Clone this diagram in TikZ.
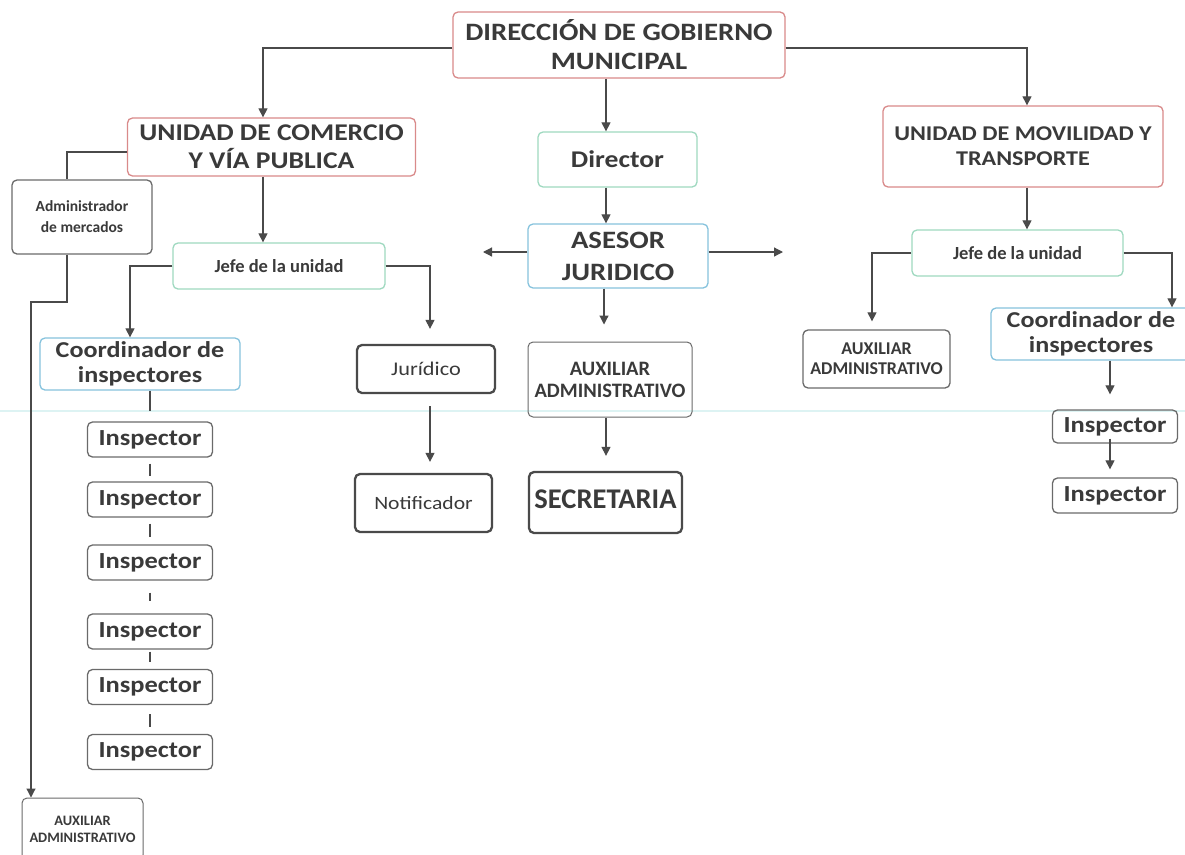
\documentclass[tikz,border=0pt]{standalone}
\usepackage{fontspec}
\setmainfont{Carlito}
\newfontfamily\cw{Carlito}[FakeStretch=1.15]
\usetikzlibrary{arrows.meta}
\definecolor{txt}{HTML}{3A3A3A}
\definecolor{lnc}{HTML}{4A4A4A}
\definecolor{redb}{HTML}{D98A8A}
\definecolor{greenb}{HTML}{9FD9C0}
\definecolor{blueb}{HTML}{86C3DD}
\definecolor{grayb}{HTML}{6A6A6A}
\definecolor{darkb}{HTML}{4A4A4A}
\definecolor{scan}{HTML}{DDF3F3}
\newcommand{\fs}[2]{\fontsize{#1}{#2}\selectfont}
\tikzset{
  box/.style={draw, rounded corners=5pt, line width=1.3pt, align=center, text=txt, inner sep=0pt},
  redbox/.style={box, draw=redb},
  greenbox/.style={box, draw=greenb},
  bluebox/.style={box, draw=blueb},
  graybox/.style={box, draw=grayb},
  darkbox/.style={box, draw=darkb, line width=2.3pt},
  inspbox/.style={graybox, minimum width=125pt, minimum height=35pt, font=\cw\bfseries\fs{23}{25}},
  conn/.style={draw=lnc, line width=1.2pt},
  arr/.style={conn, -{Triangle[length=9pt,width=9pt]}},
}
\begin{document}
\begin{tikzpicture}[x=1pt,y=-1pt]
\useasboundingbox (0,0) rectangle (1185,854);
\fill[white] (0,0) rectangle (1185,854);
\draw[scan, line width=2pt] (0,411) -- (1185,411);

% top
\node[redbox, minimum width=332pt, minimum height=66pt, font=\cw\bfseries\fs{25}{29}] (dgm) at (619,45)
  {DIRECCIÓN DE GOBIERNO\\MUNICIPAL};
\node[redbox, minimum width=288pt, minimum height=58pt, font=\cw\bfseries\fs{24}{28}] (ucv) at (271.5,147)
  {UNIDAD DE COMERCIO\\Y VÍA PUBLICA};
\node[redbox, minimum width=280pt, minimum height=81pt, font=\cw\bfseries\fs{21}{25}] (umt) at (1023,146.5)
  {UNIDAD DE MOVILIDAD Y\\TRANSPORTE};

% center column
\node[greenbox, minimum width=159pt, minimum height=55pt, font=\cw\bfseries\fs{24}{28}] (dir) at (617.5,159.5)
  {Director};
\node[bluebox, minimum width=180pt, minimum height=64pt, font=\cw\bfseries\fs{25}{32}] (ase) at (618,256)
  {ASESOR\\JURIDICO};
\node[graybox, line width=1pt, minimum width=164pt, minimum height=75pt, font=\bfseries\fs{20.5}{22}] (auxc) at (610,379.5)
  {AUXILIAR\\ADMINISTRATIVO};
\node[darkbox, minimum width=153pt, minimum height=61pt, font=\bfseries\fs{28.5}{30}] (secr) at (605.5,502.5)
  {\raisebox{7pt}{SECRETARIA}};
\node[darkbox, minimum width=138pt, minimum height=48pt, font=\cw\fs{19.4}{22}] (jur) at (426,369)
  {Jurídico};
\node[darkbox, minimum width=137pt, minimum height=58pt, font=\cw\fs{18.8}{22}] (notif) at (423.5,503)
  {Notificador};

% left column
\node[graybox, minimum width=140pt, minimum height=74pt, font=\bfseries\fs{15.5}{21}] (adm) at (82,217)
  {Administrador\\de mercados};
\node[greenbox, minimum width=212pt, minimum height=46pt, font=\bfseries\fs{18.5}{21}] (jefel) at (279,266)
  {Jefe de la unidad};
\node[bluebox, minimum width=200pt, minimum height=52pt, font=\cw\bfseries\fs{22.7}{25}] (coordl) at (140,364)
  {Coordinador de\\inspectores};
\foreach \n/\yy in {1/439.5,2/499.5,3/562.5,4/631.5,5/687,6/752}{
  \node[inspbox] (insl\n) at (150,\yy) {Inspector};
}
\node[graybox, line width=1pt, minimum width=121pt, minimum height=62pt, font=\bfseries\fs{14.4}{17}] (auxbl) at (82.5,829)
  {\raisebox{6pt}{\parbox{121pt}{\centering AUXILIAR\\ADMINISTRATIVO}}};

% right column
\node[greenbox, minimum width=211pt, minimum height=46pt, font=\bfseries\fs{18.5}{21}] (jefer) at (1017.5,253)
  {Jefe de la unidad};
\node[graybox, minimum width=147pt, minimum height=58pt, font=\bfseries\fs{18}{20}] (auxr) at (876.5,359)
  {AUXILIAR\\ADMINISTRATIVO};
\node[bluebox, minimum width=200pt, minimum height=52pt, font=\cw\bfseries\fs{22.7}{25}] (coordr) at (1091,334)
  {Coordinador de\\inspectores};
\node[inspbox, minimum height=33pt] (insr1) at (1115,426.5) {Inspector};
\node[inspbox] (insr2) at (1115,495.5) {Inspector};

% free ends
\coordinate (aseL) at (483,252);
\coordinate (aseR) at (783,252);

% connectors: top
\draw[arr] (dgm.west |- 0,48) -| (ucv.north -| 263,0);
\draw[arr] (dgm.east |- 0,48) -| (umt.north -| 1027,0);
\draw[arr] (dgm.south -| 606,0) -- (dir.north -| 606,0);
\draw[arr] (dir.south -| 606,0) -- (ase.north -| 606,0);
\draw[arr] (ase.west |- aseL) -- (aseL);
\draw[arr] (ase.east |- aseR) -- (aseR);
\draw[arr, shorten >=17pt] (ase.south -| 604,0) -- (auxc.north -| 604,0);
\draw[arr, shorten >=15pt] (auxc.south -| 606,0) -- (secr.north -| 606,0);
\draw[arr, shorten <=12pt, shorten >=11pt] (jur.south -| 430,0) -- (notif.north -| 430,0);

% left
\draw[arr] (ucv.south -| 263,0) -- (jefel.north -| 263,0);
\draw[conn] (ucv.west |- 0,152) -| (adm.north -| 67,0);
\draw[arr] (adm.south -| 67,0) -- (67,302) -| (auxbl.north -| 31,0);
\draw[arr] (jefel.west) -| (coordl.north -| 130,0);
\draw[arr, shorten >=15pt] (jefel.east) -| (jur.north -| 430,0);
\draw[conn, shorten >=10pt] (insl1.north |- coordl.south) -- (insl1.north);
\draw[conn, shorten <=6pt, shorten >=5pt] (insl1.south) -- (insl2.north);
\draw[conn, shorten <=6pt, shorten >=7pt] (insl2.south) -- (insl3.north);
\draw[conn, shorten <=12pt, shorten >=12pt] (insl3.south) -- (insl4.north);
\draw[conn, shorten <=2pt, shorten >=7pt] (insl4.south) -- (insl5.north);
\draw[conn, shorten <=9pt, shorten >=7pt] (insl5.south) -- (insl6.north);

% right
\draw[arr] (umt.south -| 1027,0) -- (jefer.north -| 1027,0);
\draw[arr, shorten >=8pt] (jefer.west) -| (auxr.north -| 872,0);
\draw[arr] (jefer.east) -| (coordr.north -| 1172,0);
\draw[arr, shorten >=15pt] (coordr.south -| 1110,0) -- (insr1.north -| 1110,0);
\draw[arr, shorten <=-5pt, shorten >=8pt] (insr1.south -| 1110,0) -- (insr2.north -| 1110,0);
\end{tikzpicture}
\end{document}
